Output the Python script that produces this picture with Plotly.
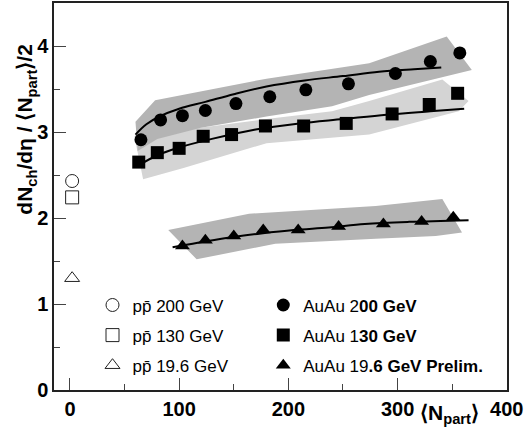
import plotly.graph_objects as go

# ---- data ----
au200_x = [65, 83, 103, 124, 152, 183, 216, 255, 298, 330, 357]
au200_y = [2.91, 3.14, 3.19, 3.25, 3.33, 3.41, 3.49, 3.56, 3.68, 3.82, 3.92]

au130_x = [63, 80, 100, 122, 148, 179, 214, 253, 295, 329, 355]
au130_y = [2.65, 2.76, 2.81, 2.95, 2.97, 3.07, 3.07, 3.10, 3.21, 3.32, 3.45]

au19_x = [103, 124, 150, 177, 209, 246, 287, 322, 351]
au19_y = [1.675, 1.74, 1.79, 1.86, 1.86, 1.90, 1.93, 1.96, 2.01]

fit200_x = [60, 70, 82, 100, 124, 150, 180, 215, 250, 283, 315, 340]
fit200_y = [2.97, 3.09, 3.18, 3.27, 3.35, 3.44, 3.53, 3.60, 3.65, 3.70, 3.73, 3.75]
fit130_x = [64, 80, 100, 130, 170, 210, 250, 290, 330, 361]
fit130_y = [2.62, 2.73, 2.82, 2.92, 3.03, 3.10, 3.15, 3.20, 3.24, 3.27]
fit19_x = [94, 125, 150, 175, 205, 237, 270, 310, 365]
fit19_y = [1.66, 1.73, 1.78, 1.82, 1.86, 1.89, 1.93, 1.955, 1.975]

band200_x = [60, 78, 180, 274, 345, 368, 274, 240, 180, 120, 80, 62]
band200_y = [3.12, 3.37, 3.62, 3.80, 4.11, 3.72, 3.43, 3.30, 3.18, 3.05, 2.92, 2.78]
band130_x = [59, 100, 180, 240, 274, 341, 365, 356, 274, 180, 104, 67]
band130_y = [2.95, 3.02, 3.15, 3.24, 3.36, 3.61, 3.36, 3.24, 2.97, 2.87, 2.58, 2.45]
band19_x = [90, 164, 280, 341, 359, 335, 280, 188, 116]
band19_y = [1.86, 2.05, 2.14, 2.22, 1.83, 1.79, 1.76, 1.70, 1.52]

pp_x = [2, 2, 2]
pp_y = [2.43, 2.24, 1.30]
pp_names = ["pp\u0304 200 GeV", "pp\u0304 130 GeV", "pp\u0304 19.6 GeV"]
pp_symbols = ["circle-open", "square-open", "triangle-up-open"]

au_names = ["AuAu 2<b>00 GeV</b>", "AuAu 1<b>30 GeV</b>", "AuAu 19<b>.6 GeV Prelim.</b>"]

xticks = [0, 100, 200, 300, 400]
yticks = [0, 1, 2, 3, 4]

DARK = "#b4b4b4"
LIGHT = "#d4d4d4"
FONT = "Liberation Sans, Arial, sans-serif"

fig = go.Figure()

for bx, by, col in [(band130_x, band130_y, LIGHT), (band200_x, band200_y, DARK), (band19_x, band19_y, DARK)]:
    fig.add_trace(go.Scatter(x=bx, y=by, fill="toself", fillcolor=col, mode="lines",
                             line=dict(width=0, color=col), showlegend=False, hoverinfo="skip"))

for fx, fy in [(fit200_x, fit200_y), (fit130_x, fit130_y), (fit19_x, fit19_y)]:
    fig.add_trace(go.Scatter(x=fx, y=fy, mode="lines", line=dict(color="black", width=2, shape="spline"),
                             showlegend=False, hoverinfo="skip"))

for i in range(3):
    fig.add_trace(go.Scatter(x=[pp_x[i]], y=[pp_y[i]], mode="markers", name=pp_names[i],
                             marker=dict(symbol=pp_symbols[i], size=13, color="#222", line=dict(width=1, color="#222")),
                             legend="legend", legendgroup="pp%d" % i))

au_data = [(au200_x, au200_y, "circle"), (au130_x, au130_y, "square"), (au19_x, au19_y, "triangle-up")]
for i, (ax_, ay_, sym) in enumerate(au_data):
    fig.add_trace(go.Scatter(x=ax_, y=ay_, mode="markers", name=au_names[i],
                             marker=dict(symbol=sym, size=13, color="black"),
                             legend="legend2", legendgroup="au%d" % i))

fig.update_layout(
    width=527, height=436,
    margin=dict(l=54, r=20, t=1, b=46),
    plot_bgcolor="white", paper_bgcolor="white",
    font=dict(family=FONT, color="black", size=17),
    legend=dict(x=0.085, y=0.265, xanchor="left", yanchor="top", bgcolor="rgba(0,0,0,0)",
                font=dict(size=17), tracegroupgap=5, itemwidth=30),
    legend2=dict(x=0.462, y=0.265, xanchor="left", yanchor="top", bgcolor="rgba(0,0,0,0)",
                 font=dict(size=17), tracegroupgap=5, itemwidth=30),
)

fig.update_xaxes(range=[-14.6, 400.2], tickvals=xticks, ticktext=["<b>%d</b>" % v for v in xticks],
                 ticks="inside", ticklen=12, tickcolor="#444", tickwidth=1,
                 minor=dict(dtick=50, ticks="inside", ticklen=6, tickcolor="#444"),
                 showline=True, linecolor="#222", linewidth=1.5, mirror=True,
                 showgrid=False, zeroline=False, tickfont=dict(size=20, family=FONT))
fig.update_yaxes(range=[0, 4.5], tickvals=yticks, ticktext=["<b>%d</b>" % v for v in yticks],
                 ticks="inside", ticklen=12, tickcolor="#444", tickwidth=1,
                 minor=dict(dtick=0.5, ticks="inside", ticklen=6, tickcolor="#444"),
                 showline=True, linecolor="#222", linewidth=1.5, mirror=True,
                 showgrid=False, zeroline=False, tickfont=dict(size=20, family=FONT))

fig.add_annotation(text="<b>dN<sub>ch</sub>/d\u03b7 / \u27e8N<sub>part</sub>\u27e9/2</b>",
                   xref="paper", yref="paper", x=-0.062, y=0.675, textangle=-90,
                   showarrow=False, font=dict(size=21, family=FONT), xanchor="center", yanchor="middle")
fig.add_annotation(text="<b>\u27e8N<sub>part</sub>\u27e9</b>",
                   xref="paper", yref="paper", x=0.873, y=-0.062,
                   showarrow=False, font=dict(size=21, family=FONT), xanchor="center", yanchor="middle")

fig.write_html("out.html")
